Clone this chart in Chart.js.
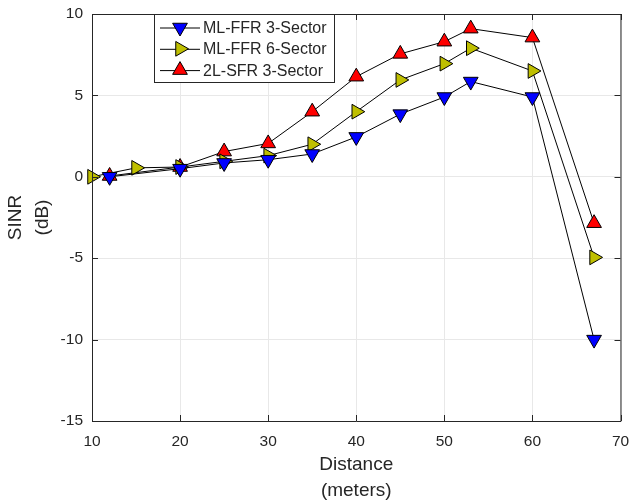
<!DOCTYPE html>
<html>
<head>
<meta charset="utf-8">
<script src="https://cdn.jsdelivr.net/npm/chart.js@4/dist/chart.umd.min.js"></script>
<style>
  html, body { margin: 0; padding: 0; background: #fff; }
  #wrap { width: 630px; height: 502px; }
</style>
</head>
<body>
<div id="wrap"><canvas id="sinrChart" width="630" height="502"></canvas></div>
<script>
// Data
const seriesNames = ['ML-FFR 3-Sector', 'ML-FFR 6-Sector', '2L-SFR 3-Sector'];
const mlffr3X = [12, 20, 25, 30, 35, 40, 45, 50, 53, 60, 67];
const mlffr3Y = [0, 0.5, 0.85, 1.05, 1.4, 2.45, 3.85, 4.9, 5.85, 4.9, -10];
const mlffr6X = [10, 15, 20, 25, 30, 35, 40, 45, 50, 53, 60, 67];
const mlffr6Y = [0, 0.55, 0.6, 0.95, 1.3, 2.0, 4.0, 5.95, 6.95, 7.9, 6.5, -4.95];
const sfr3X = [12, 20, 25, 30, 35, 40, 45, 50, 53, 60, 67];
const sfr3Y = [0.05, 0.6, 1.55, 2.05, 4.0, 6.15, 7.55, 8.3, 9.1, 8.55, -2.85];
const xTicks = [10, 20, 30, 40, 50, 60, 70];
const yTicks = [-15, -10, -5, 0, 5, 10];

const toPoints = (xs, ys) => xs.map((x, i) => ({ x: x, y: ys[i] }));

const axisColor = '#262626';
const gridColor = '#e8e8e8';
const markerR = 8.5;

const styles = [
  { fill: '#0000ff', rotation: 180 },
  { fill: '#bfbf00', rotation: 90 },
  { fill: '#ff0000', rotation: 0 }
];

function makeSet(i, xs, ys) {
  return {
    label: seriesNames[i],
    data: toPoints(xs, ys),
    showLine: true,
    borderColor: '#000',
    borderWidth: 1,
    pointStyle: 'triangle',
    pointRotation: styles[i].rotation,
    pointRadius: markerR,
    pointHoverRadius: markerR,
    pointBackgroundColor: styles[i].fill,
    pointBorderColor: '#000',
    pointBorderWidth: 1,
    clip: false
  };
}

// box around the axes with inward ticks
const frame = {
  id: 'frame',
  afterDatasetsDraw(chart) {
    const { ctx, chartArea: a, scales } = chart;
    ctx.save();
    ctx.strokeStyle = axisColor;
    ctx.lineWidth = 1;
    ctx.beginPath();
    ctx.rect(a.left + 0.5, a.top + 0.5, a.right - a.left, a.bottom - a.top);
    xTicks.forEach(v => {
      const px = Math.round(scales.x.getPixelForValue(v)) + 0.5;
      ctx.moveTo(px, a.bottom); ctx.lineTo(px, a.bottom - 6);
      ctx.moveTo(px, a.top); ctx.lineTo(px, a.top + 6);
    });
    yTicks.forEach(v => {
      const py = Math.round(scales.y.getPixelForValue(v)) + 0.5;
      ctx.moveTo(a.left, py); ctx.lineTo(a.left + 6, py);
      ctx.moveTo(a.right, py); ctx.lineTo(a.right - 6, py);
    });
    ctx.stroke();
    ctx.restore();
  }
};

// MATLAB-like legend with line + marker samples
const boxLegend = {
  id: 'boxLegend',
  afterDraw(chart) {
    const { ctx, chartArea: a } = chart;
    const x0 = 154, y0 = a.top, w = 180, h = 68;
    ctx.save();
    ctx.fillStyle = '#fff';
    ctx.fillRect(x0, y0, w, h);
    ctx.strokeStyle = axisColor;
    ctx.lineWidth = 1;
    ctx.strokeRect(x0 + 0.5, y0 + 0.5, w, h);
    ctx.font = '16px "Liberation Sans", Arial, sans-serif';
    ctx.textBaseline = 'middle';
    chart.data.datasets.forEach((ds, i) => {
      const cy = y0 + 13.5 + i * 21.3;
      ctx.strokeStyle = '#000';
      ctx.beginPath();
      ctx.moveTo(160, cy + 0.5); ctx.lineTo(200, cy + 0.5);
      ctx.stroke();
      ctx.fillStyle = ds.pointBackgroundColor;
      ctx.strokeStyle = '#000';
      ctx.lineWidth = 1;
      Chart.helpers.drawPoint(ctx, {
        pointStyle: 'triangle', radius: markerR, rotation: ds.pointRotation, borderWidth: 1
      }, 180, cy);
      ctx.fillStyle = axisColor;
      ctx.fillText(ds.label, 203, cy + 1);
    });
    ctx.restore();
  }
};

const tickFont = { family: '"Liberation Sans", Arial, sans-serif', size: 15.5 };
const titleFont = { family: '"Liberation Sans", Arial, sans-serif', size: 19 };

new Chart(document.getElementById('sinrChart'), {
  type: 'scatter',
  data: {
    datasets: [
      makeSet(0, mlffr3X, mlffr3Y),
      makeSet(1, mlffr6X, mlffr6Y),
      makeSet(2, sfr3X, sfr3Y)
    ]
  },
  options: {
    responsive: false,
    animation: false,
    layout: { padding: { top: 14, right: 9, left: 0, bottom: 0 } },
    plugins: {
      legend: { display: false },
      tooltip: { enabled: false }
    },
    scales: {
      x: {
        type: 'linear',
        min: 10, max: 70,
        afterBuildTicks: s => { s.ticks = xTicks.map(v => ({ value: v })); },
        afterFit: s => { s.height = 81; s.paddingLeft = 0; s.paddingRight = 0; },
        grid: { color: gridColor, drawTicks: false },
        border: { display: false },
        ticks: { color: axisColor, font: tickFont, padding: 11, maxRotation: 0 },
        title: {
          display: true,
          text: ['Distance', '(meters)'],
          color: axisColor,
          font: { ...titleFont, lineHeight: 1.37 },
          padding: { top: 0, bottom: -2 }
        }
      },
      y: {
        min: -15, max: 10,
        afterBuildTicks: s => { s.ticks = yTicks.map(v => ({ value: v })); },
        afterFit: s => { s.width = 92; s.paddingTop = 0; s.paddingBottom = 0; },
        grid: { color: gridColor, drawTicks: false },
        border: { display: false },
        ticks: { color: axisColor, font: tickFont, padding: 9 },
        title: {
          display: true,
          text: ['SINR', '(dB)'],
          color: axisColor,
          font: { ...titleFont, lineHeight: 1.42 },
          padding: { top: 2, bottom: 0 }
        }
      }
    }
  },
  plugins: [frame, boxLegend]
});
</script>
</body>
</html>
